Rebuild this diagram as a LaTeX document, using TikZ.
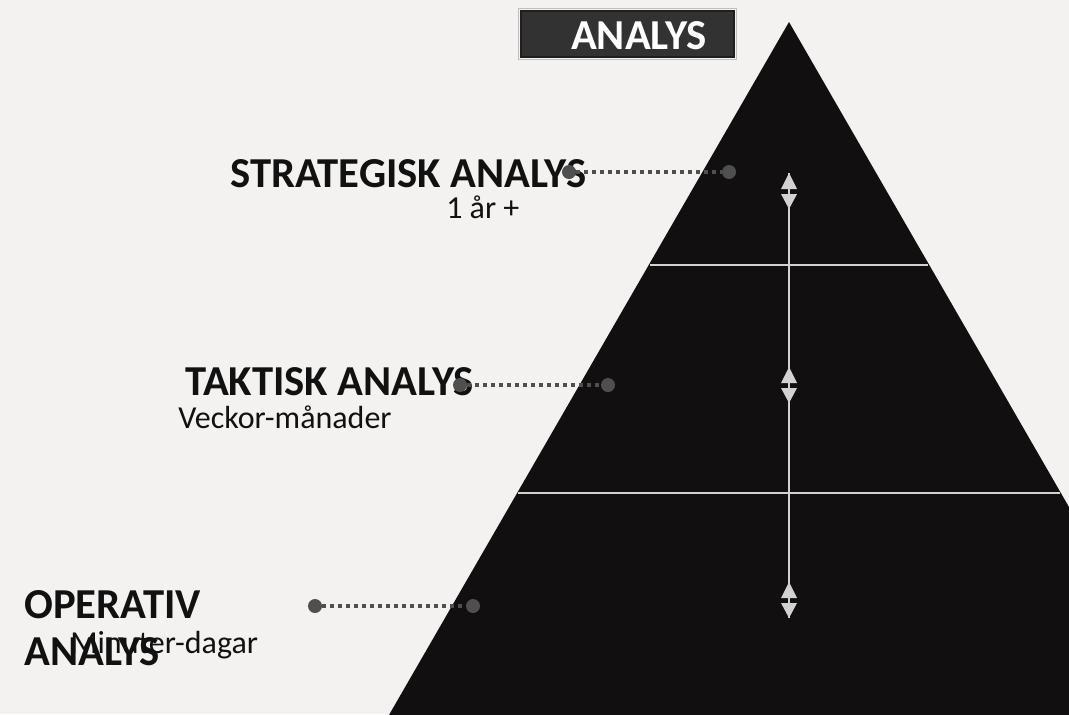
\documentclass[tikz,border=0pt]{standalone}
\usepackage{fontspec}
\setmainfont{Carlito}
\definecolor{bgcol}{HTML}{F3F2F0}
\definecolor{pyrcol}{HTML}{110F0F}
\definecolor{dotcol}{HTML}{4F4F4F}
\definecolor{linecol}{HTML}{D2D2D2}
\definecolor{boxcol}{HTML}{323232}
\definecolor{txtcol}{HTML}{111111}
\tikzset{
  head/.style={anchor=base west, inner sep=0pt, text=txtcol, font=\fontsize{32}{35}\selectfont\bfseries},
  sub/.style={anchor=base west, inner sep=0pt, text=txtcol, font=\fontsize{24}{28}\selectfont},
  dotend/.style={circle, fill=dotcol, inner sep=0pt, minimum size=10.5pt},
  dotline/.style={draw=dotcol, line width=3pt, dash pattern=on 3pt off 3pt},
  divider/.style={draw=linecol, line width=2.2pt}
}
\begin{document}
\begin{tikzpicture}[x=0.75pt, y=-0.75pt]
  \fill[bgcol] (0,0) rectangle (1069,714);
  \useasboundingbox (0,0) rectangle (1069,714);
  \begin{scope}
    \clip (0,0) rectangle (1069,714);
    % pyramid
    \fill[pyrcol] (789,22) -- (363,760) -- (1215,760) -- cycle;
    \draw[divider] (650,265) -- (928,265);
    \draw[divider] (518,493) -- (1060,493);
    \draw[draw=linecol, line width=2.2pt] (789,173) -- (789,618);
    \foreach \c in {191,385,600}{
      \fill[linecol] (789,\c-18) -- (781,\c-2) -- (797,\c-2) -- cycle;
      \fill[linecol] (781,\c+3) -- (797,\c+3) -- (789,\c+18) -- cycle;
    }
  \end{scope}
  % top label
  \node[draw=boxcol!60!black, line width=1.5pt, fill=boxcol, minimum width=160pt, minimum height=35pt, inner sep=0pt,
        outer sep=0pt] (analysbox) at (627.5,34) {};
  \draw[gray!50, line width=0.6pt] (analysbox.south west) ++(-1.5pt,-1.5pt) rectangle ([shift={(1.5pt,1.5pt)}]analysbox.north east);
  \node[anchor=base, inner sep=0pt, text=white, font=\fontsize{32}{35}\selectfont\bfseries] (analys) at (639,49) {ANALYS};
  % levels
  \node[head] (strat) at (230,187) {STRATEGISK ANALYS};
  \node[sub] (strattid) at (446,218) {1 år +};
  \node[head] (takt) at (185,395) {TAKTISK ANALYS};
  \node[sub] (takttid) at (178,428) {Veckor-månader};
  \node[head, align=left] (oper) at (24,665) {OPERATIV\\ANALYS};
  \node[sub] (opertid) at (70,653) {Minuter-dagar};
  % connectors
  \node[dotend] (sL) at (569,172) {};
  \node[dotend] (sR) at (729,172) {};
  \node[dotend] (tL) at (460,385) {};
  \node[dotend] (tR) at (608,385) {};
  \node[dotend] (oL) at (315,606) {};
  \node[dotend] (oR) at (473,606) {};
  \draw[dotline] (sL) -- (sR);
  \draw[dotline] (tL) -- (tR);
  \draw[dotline] (oL) -- (oR);
\end{tikzpicture}
\end{document}
